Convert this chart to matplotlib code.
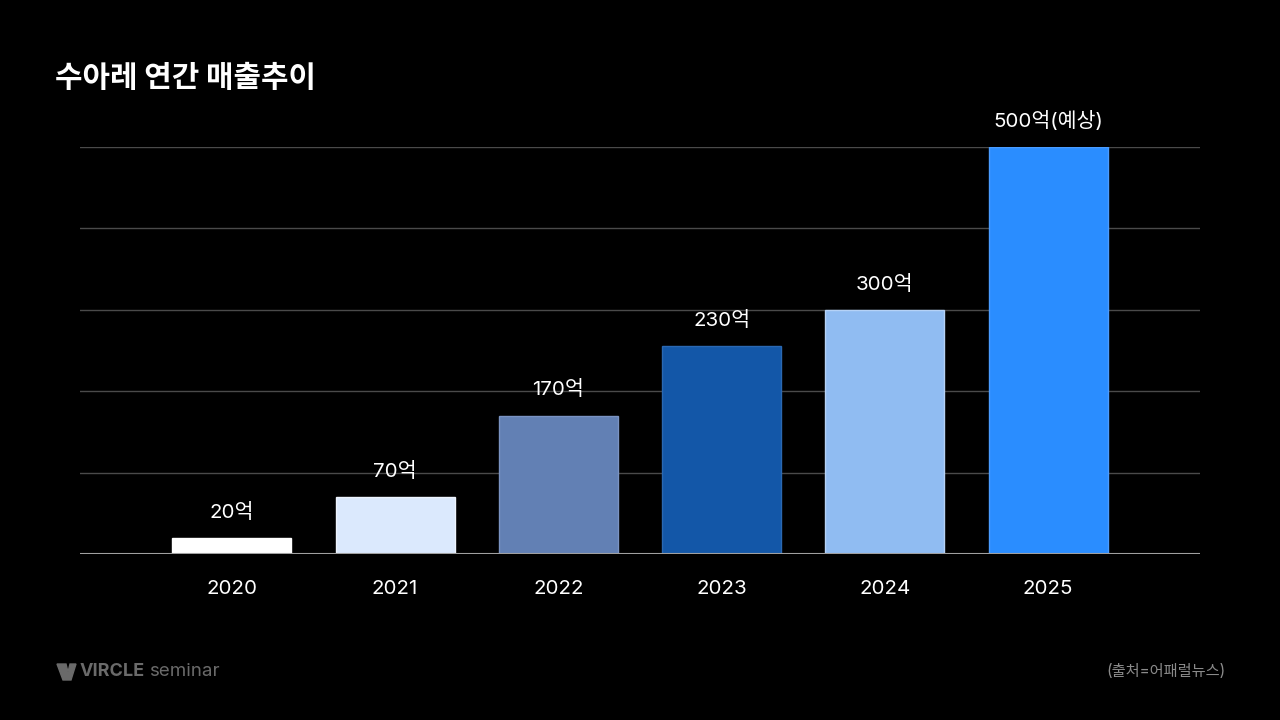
import matplotlib
matplotlib.use("Agg")
import matplotlib.pyplot as plt
from matplotlib.patches import Polygon

plt.rcParams['font.family'] = ['Inter', 'Noto Sans CJK KR', 'DejaVu Sans']

# données
years = ['2020', '2021', '2022', '2023', '2024', '2025']
sales = [20, 70, 170, 255, 300, 500]   # hauteur des barres
labels = ['20억', '70억', '170억', '230억', '300억', '500억(예상)']
colors = ['#ffffff', '#dbe9fd', '#6280b4', '#1357a8', '#90bcf2', '#2a8dff']
edges = ['#ffffff', '#eef4fe', '#7a93c2', '#2a68b2', '#b5d2f7', '#4a9cff']

fig = plt.figure(figsize=(12.8, 7.2), dpi=100, facecolor='black')
ax = fig.add_axes([80/1280, 1-554/720, 1120/1280, 407/720])
ax.set_facecolor('black')

x = range(len(years))
ax.bar(x, sales, width=0.73, color=colors, edgecolor=edges, linewidth=1, zorder=3)

# étiquettes au-dessus des barres
for i, v in enumerate(sales):
    ax.annotate(labels[i], (i, v), xytext=(0, 18.5), textcoords='offset points',
                ha='center', va='center', color='white', fontsize=14.8, zorder=4)

ax.set_xlim(-0.93, 5.93)
ax.set_ylim(0, 500)
ax.set_yticks([100, 200, 300, 400, 500])
ax.yaxis.grid(True, color='#4a4a4a', linewidth=1, zorder=0)
ax.axhline(0, color='#a0a0a0', linewidth=1.5, zorder=5)
for s in ax.spines.values():
    s.set_visible(False)
ax.set_xticks(list(x))
ax.set_xticklabels(years, color='white', fontsize=14.8)
ax.tick_params(axis='x', length=0, pad=18.5)
ax.tick_params(axis='y', length=0, labelleft=False)

# titre
fig.text(55/1280, 1-78/720, '수아레 연간 매출추이', color='white', fontsize=21.5,
         fontweight='bold', family='Noto Sans CJK KR', ha='left', va='center')

# logo
logo = Polygon([[57/1280, 1-664/720], [66/1280, 1-664/720], [68/1280, 1-672/720],
                [70/1280, 1-664/720], [76/1280, 1-664/720], [71/1280, 1-680/720],
                [63/1280, 1-680/720]], closed=True, transform=fig.transFigure,
               color='#6a6a6a')
fig.patches.append(logo)
fig.text(80/1280, 1-672/720, 'VIRCLE', color='#6a6a6a', fontsize=13,
         fontweight='bold', ha='left', va='center')
fig.text(149/1280, 1-672/720, 'seminar', color='#6a6a6a', fontsize=13.5,
         ha='left', va='center')

# source
fig.text(1226/1280, 1-672/720, '(출처=어패럴뉴스)', color='#8a8a8a', fontsize=11,
         ha='right', va='center')

fig.savefig('out.png', dpi=100, facecolor='black')
